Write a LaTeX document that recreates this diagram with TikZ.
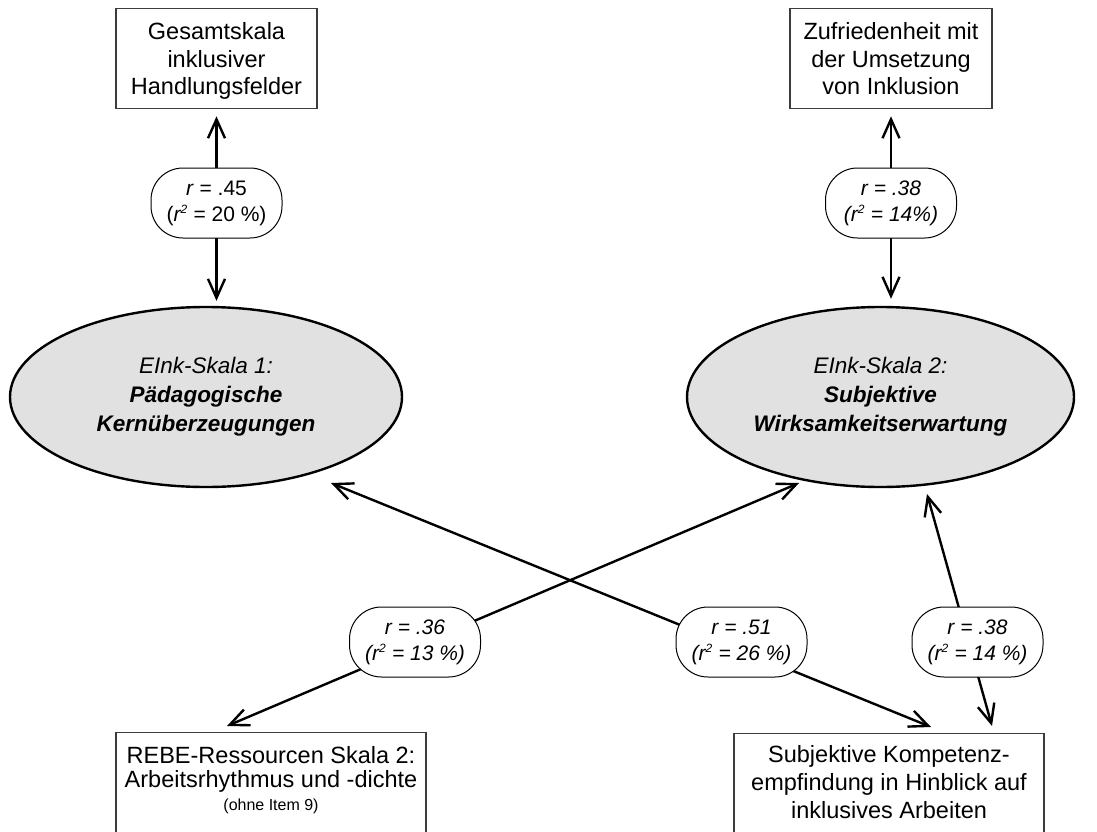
\documentclass[tikz,border=0pt]{standalone}
\usepackage{fontspec}
\setmainfont{Liberation Sans}
\usetikzlibrary{arrows.meta,shapes.geometric}
\definecolor{ellgray}{RGB}{225,225,225}
\definecolor{boxline}{RGB}{60,60,60}
\newcommand\rsq{r\textsuperscript{\fontsize{12}{12}\selectfont 2}}
\begin{document}
\begin{tikzpicture}[x=1pt,y=-1pt,
  ell/.style={ellipse, draw, line width=2.4pt, fill=ellgray, inner sep=0pt,
    minimum height=180pt, align=center, font=\fontsize{22.5}{29}\selectfont},
  box/.style={draw=boxline, line width=1.3pt, inner sep=0pt, align=center,
    anchor=north, font=\fontsize{23.5}{27.5}\selectfont},
  pill/.style={draw, line width=1pt, fill=white, rounded corners=32pt,
    minimum width=131pt, minimum height=70pt, inner sep=0pt, align=center,
    font=\fontsize{21}{26}\selectfont},
  arr/.style={line width=2.4pt,
    {Straight Barb[length=19pt,width=17pt]}-{Straight Barb[length=19pt,width=17pt]}}]
\useasboundingbox (0,0) rectangle (1097,832);
\clip (0,0) rectangle (1097,832);

% ellipses
\node[ell, minimum width=392pt] (e1) at (206,397)
  {\itshape EInk-Skala 1:\\ \bfseries\itshape Pädagogische\\ \bfseries\itshape Kernüberzeugungen};
\node[ell, minimum width=387pt] (e2) at (880.5,397)
  {\itshape EInk-Skala 2:\\ \bfseries\itshape Subjektive\\ \bfseries\itshape Wirksamkeitserwartung};

% boxes (text height = distance from top border to last baseline)
\node[box, minimum width=201pt, text height=86pt, text depth=14pt] (b1) at (216.5,8)
  {Gesamtskala\\ inklusiver\\ Handlungsfelder};
\node[box, minimum width=202pt, text height=86pt, text depth=14pt] (b2) at (891,8)
  {Zufriedenheit mit\\ der Umsetzung\\ von Inklusion};
\node[box, minimum width=310pt, text height=78pt, text depth=60pt,
  font=\fontsize{23.5}{23.5}\selectfont] (b3) at (271,732)
  {REBE-Ressourcen Skala 2:\\ Arbeitsrhythmus und -dichte\\ {\fontsize{16}{19}\selectfont (ohne Item 9)}};
\node[box, minimum width=310pt, text height=85pt, text depth=60pt,
  font=\fontsize{23.5}{28}\selectfont] (b4) at (889,733)
  {Subjektive Kompetenz-\\ empfindung in Hinblick auf\\ inklusives Arbeiten};

% connector end points
\coordinate (a1) at (331,483);
\coordinate (a2) at (931,727);
\coordinate (c1) at (799,483);
\coordinate (c2) at (227,726);
\coordinate (d1) at (927,494);
\coordinate (d2) at (992,726);

% connectors
\draw[arr, shorten <=7pt, shorten >=5pt] (b1.south) -- (b1.south |- e1.north);
\draw[arr, shorten <=7pt, shorten >=7pt] (b2.south) -- (b2.south |- e2.north);
\draw[arr] (a1) -- (a2);
\draw[arr] (c1) -- (c2);
\draw[arr] (d1) -- (d2);

% labels
\node[pill] (p1) at (216.5,203) {\textit{r} = .45\\ (\textit{\rsq} = 20 \%)};
\node[pill] (p2) at (891,203) {\itshape r = .38\\ \itshape (\rsq{} = 14\%)};
\node[pill] (p3) at (415,642) {\itshape r = .36\\ \itshape (\rsq{} = 13 \%)};
\node[pill] (p4) at (741.5,642) {\itshape r = .51\\ \itshape (\rsq{} = 26 \%)};
\node[pill] (p5) at (977.5,642) {\itshape r = .38\\ \itshape (\rsq{} = 14 \%)};
\end{tikzpicture}
\end{document}
